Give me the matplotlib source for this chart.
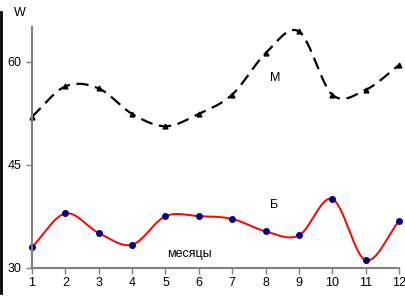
import numpy as np
import matplotlib
matplotlib.use("Agg")
import matplotlib.pyplot as plt
from matplotlib.lines import Line2D

months = [1, 2, 3, 4, 5, 6, 7, 8, 9, 10, 11, 12]
series_M = [52.0, 56.4, 56.1, 52.4, 50.6, 52.4, 55.2, 61.2, 64.4, 55.2, 55.9, 59.5]
series_B = [33.0, 37.9, 35.05, 33.35, 37.5, 37.5, 37.1, 35.3, 34.7, 40.0, 31.1, 36.8]
yticks = [30, 45, 60]

plt.rcParams['font.family'] = ['Liberation Sans', 'DejaVu Sans']


def smooth(x, y, n=30):
    # Catmull-Rom curve drawn through the data points (Excel-style smoothed line)
    x = np.asarray(x, float)
    y = np.asarray(y, float)
    P = np.column_stack([x, y])
    P = np.vstack([P[0] - (P[1] - P[0]), P, P[-1] + (P[-1] - P[-2])])
    out = []
    for i in range(1, len(P) - 2):
        p0, p1, p2, p3 = P[i - 1], P[i], P[i + 1], P[i + 2]
        t = np.linspace(0, 1, n, endpoint=(i == len(P) - 3))[:, None]
        c = 0.5 * ((2 * p1) + (-p0 + p2) * t + (2 * p0 - 5 * p1 + 4 * p2 - p3) * t ** 2
                   + (-p0 + 3 * p1 - 3 * p2 + p3) * t ** 3)
        out.append(c)
    c = np.vstack(out)
    return c[:, 0], c[:, 1]


fig = plt.figure(figsize=(4.06, 2.99), dpi=100)
ax = fig.add_axes([32 / 406, 1 - 267.7 / 299, (399 - 32) / 406, (267.7 - 27) / 299])

sx, sy = smooth(months, series_M)
ax.plot(sx, sy, color='black', lw=1.6, dashes=(5.5, 3), clip_on=False)
ax.plot(months, series_M, ls='none', marker='^', color='black', ms=3.5, clip_on=False)

bx, by = smooth(months, series_B)
ax.plot(bx, by, color='#ff0000', lw=1.4, clip_on=False)
ax.plot(months, series_B, ls='none', marker='o', color='#000080', ms=4, clip_on=False)

ax.set_xlim(1, 12)
ax.set_ylim(30, 65.05)
ax.set_xticks(months)
ax.set_yticks(yticks)
ax.tick_params(axis='both', labelsize=9, colors='#808080', labelcolor='black',
               length=4, width=1, direction='out')
ax.tick_params(axis='x', pad=3)
for s in ['top', 'right']:
    ax.spines[s].set_visible(False)
for s in ['left', 'bottom']:
    ax.spines[s].set_color('#808080')
    ax.spines[s].set_linewidth(1.5)

fig.text(20 / 406, 1 - 13 / 299, 'W', ha='center', va='center', fontsize=9)
fig.text(275 / 406, 1 - 78 / 299, 'М', ha='center', va='center', fontsize=9)
fig.text(274 / 406, 1 - 205 / 299, 'Б', ha='center', va='center', fontsize=9)
fig.text(189 / 406, 1 - 254 / 299, 'месяцы', ha='center', va='center', fontsize=9)

fig.add_artist(Line2D([1.2 / 406, 1.2 / 406], [0.02, 0.96], color='black', lw=2,
                      transform=fig.transFigure))

fig.savefig('out.png', dpi=100)
